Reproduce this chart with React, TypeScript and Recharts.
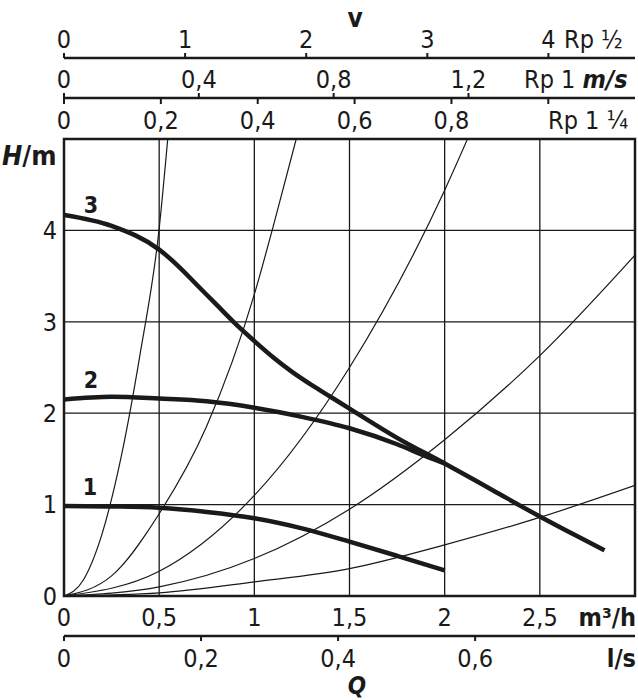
import React from "react";
import {
  LineChart,
  Line,
  XAxis,
  YAxis,
  CartesianGrid,
  ReferenceArea,
} from "recharts";

const FONT = "'DejaVu Sans Condensed', 'DejaVu Sans', sans-serif";
const INK = "#1a1a1a";

// axes (flow in m³/h, head in m, flow in l/s, velocity in m/s per pipe size)
const flowTicks = [0, 0.5, 1, 1.5, 2, 2.5];
const headTicks = [0, 1, 2, 3, 4];
const litreTicks = [0, 0.2, 0.4, 0.6];
const rpHalfTicks = [0, 1, 2, 3, 4];
const rpOneTicks = [0, 0.4, 0.8, 1.2];
const rpQuarterTicks = [0, 0.2, 0.4, 0.6, 0.8, 1];

const flowDomain = [0, 3];
const headDomain = [0, 5];
const litreDomain = [0, 3 / 3.6];
const rpHalfDomain = [0, 4.715];
const rpOneDomain = [0, 1.694];
const rpQuarterDomain = [0, 1.179];

// pump curves, speed stages 1..3
const q1 = [0, 0.25, 0.5, 0.75, 1, 1.25, 1.5, 1.75, 2];
const h1 = [0.985, 0.98, 0.965, 0.92, 0.85, 0.74, 0.595, 0.44, 0.28];
const q2 = [0, 0.25, 0.5, 0.75, 1, 1.25, 1.5, 1.75, 1.9, 2];
const h2 = [2.15, 2.18, 2.16, 2.13, 2.06, 1.96, 1.835, 1.66, 1.53, 1.45];
const q3 = [0, 0.25, 0.5, 0.6, 0.7, 0.8, 0.9, 1, 1.1, 1.2, 1.3, 1.4, 1.5, 1.75, 2, 2.25, 2.5, 2.7, 2.84];
const h3 = [4.17, 4.05, 3.79, 3.61, 3.4, 3.19, 2.98, 2.79, 2.61, 2.45, 2.31, 2.18, 2.05, 1.73, 1.45, 1.16, 0.87, 0.65, 0.5];

// system curves (thin), steepest first
const qA = [0, 0.1, 0.2, 0.3, 0.4, 0.5, 0.545];
const hA = [0, 0.17, 0.68, 1.52, 2.65, 4.02, 5];
const qB = [0, 0.25, 0.5, 0.75, 1, 1.1, 1.22];
const hB = [0, 0.22, 0.9, 1.86, 3.3, 4.05, 5];
const qC = [0, 0.5, 1, 1.5, 2, 2.12];
const hC = [0, 0.27, 1.1, 2.5, 4.44, 5];
const qD = [0, 0.5, 1, 1.5, 2, 2.5, 3];
const hD = [0, 0.1, 0.41, 0.95, 1.71, 2.63, 3.73];
const qE = [0, 0.5, 1, 1.5, 2, 2.5, 3];
const hE = [0, 0.035, 0.155, 0.3, 0.56, 0.86, 1.21];

const toPoints = (q: number[], h: number[]) =>
  q.map((x, i) => ({ q: x, h: h[i] }));

const pumpCurves = [toPoints(q1, h1), toPoints(q2, h2), toPoints(q3, h3)];
const systemCurves = [
  toPoints(qA, hA),
  toPoints(qB, hB),
  toPoints(qC, hC),
  toPoints(qD, hD),
  toPoints(qE, hE),
];
// axes that carry no series still need rows to get a domain
const axisRows = flowTicks.map((q) => ({ q }));

const comma = (v: number) => String(v).replace(".", ",");
const tickStyle = { fill: INK, fontSize: 25, fontFamily: FONT };
const lineStyle = { stroke: INK, strokeWidth: 2.5 };
const tickLineStyle = { stroke: INK, strokeWidth: 2 };

// Rp 1¼ shares the upper line: ticks hang down from it, labels below
const renderQuarterTick = (props: any) => {
  const { x, y, payload } = props;
  return (
    <g>
      <line x1={x} x2={x} y1={y - 30.5} y2={y - 24.5} stroke={INK} strokeWidth={2} />
      {payload.value < 1 && (
        <text x={x} y={y} textAnchor="middle" fill={INK} fontSize={25} fontFamily={FONT}>
          {comma(payload.value)}
        </text>
      )}
    </g>
  );
};

// axis ids are stacked outward from the plot in sorted order
const FLOW = "x1flow";
const LITRE = "x2litre";
const RP_QUARTER = "x3quarter";
const RP_ONE = "x4one";
const RP_HALF = "x5half";

export default function App() {
  return (
    <div
      style={{
        position: "absolute",
        left: 0,
        top: 0,
        width: 638,
        height: 700,
        background: "#fff",
      }}
    >
      <LineChart
        width={638}
        height={700}
        data={axisRows}
        margin={{ top: 18, right: 3, bottom: 19, left: 0 }}
      >
        <XAxis
          xAxisId={FLOW}
          dataKey="q"
          type="number"
          domain={flowDomain}
          allowDataOverflow
          ticks={flowTicks}
          interval={0}
          orientation="bottom"
          height={40}
          axisLine={false}
          tickLine={false}
          tickSize={0}
          tickMargin={12}
          tick={tickStyle}
          tickFormatter={comma}
        />
        <XAxis
          xAxisId={LITRE}
          dataKey="q"
          type="number"
          domain={litreDomain}
          allowDataOverflow
          ticks={litreTicks}
          interval={0}
          orientation="bottom"
          height={45}
          axisLine={lineStyle}
          tickLine={tickLineStyle}
          tickSize={5}
          tickMargin={8}
          tick={tickStyle}
          tickFormatter={comma}
        />
        <XAxis
          xAxisId={RP_QUARTER}
          dataKey="q"
          type="number"
          domain={rpQuarterDomain}
          allowDataOverflow
          ticks={rpQuarterTicks}
          interval={0}
          orientation="top"
          height={41}
          axisLine={false}
          tickLine={false}
          tickSize={0}
          tickMargin={10.5}
          tick={renderQuarterTick}
        />
        <XAxis
          xAxisId={RP_ONE}
          dataKey="q"
          type="number"
          domain={rpOneDomain}
          allowDataOverflow
          ticks={rpOneTicks}
          interval={0}
          orientation="top"
          height={40}
          axisLine={lineStyle}
          tickLine={tickLineStyle}
          tickSize={5}
          tickMargin={5}
          tick={tickStyle}
          tickFormatter={comma}
        />
        <XAxis
          xAxisId={RP_HALF}
          dataKey="q"
          type="number"
          domain={rpHalfDomain}
          allowDataOverflow
          ticks={rpHalfTicks}
          interval={0}
          orientation="top"
          height={40}
          axisLine={lineStyle}
          tickLine={tickLineStyle}
          tickSize={5}
          tickMargin={5}
          tick={tickStyle}
          tickFormatter={comma}
        />
        <YAxis
          yAxisId="h"
          type="number"
          domain={headDomain}
          allowDataOverflow
          ticks={headTicks}
          interval={0}
          width={64}
          axisLine={false}
          tickLine={false}
          tickSize={0}
          tickMargin={7}
          tick={tickStyle}
        />
        <CartesianGrid xAxisId={FLOW} yAxisId="h" stroke={INK} strokeWidth={1.3} />
        {systemCurves.map((pts, i) => (
          <Line
            key={`sys${i}`}
            xAxisId={FLOW}
            yAxisId="h"
            data={pts}
            dataKey="h"
            type="monotone"
            stroke={INK}
            strokeWidth={1.2}
            dot={false}
            activeDot={false}
            isAnimationActive={false}
          />
        ))}
        {pumpCurves.map((pts, i) => (
          <Line
            key={`pump${i}`}
            xAxisId={FLOW}
            yAxisId="h"
            data={pts}
            dataKey="h"
            type="monotone"
            stroke={INK}
            strokeWidth={4.5}
            dot={false}
            activeDot={false}
            isAnimationActive={false}
          />
        ))}
        <ReferenceArea
          xAxisId={FLOW}
          yAxisId="h"
          x1={0}
          x2={3}
          y1={0}
          y2={5}
          fill="none"
          fillOpacity={0}
          stroke={INK}
          strokeWidth={2.5}
        />
      </LineChart>
      <svg
        width={638}
        height={700}
        style={{ position: "absolute", left: 0, top: 0, pointerEvents: "none" }}
        fontFamily={FONT}
        fill={INK}
      >
        <text x={355} y={27} fontSize={26} fontWeight="bold" textAnchor="middle">v</text>
        <text x={564} y={48} fontSize={25}>Rp ½</text>
        <text x={524} y={88} fontSize={25}>
          Rp 1 <tspan fontWeight="bold" fontStyle="italic">m/s</tspan>
        </text>
        <text x={548} y={128.5} fontSize={25}>Rp 1 ¼</text>
        <text x={2} y={165} fontSize={27} fontWeight="bold">
          <tspan fontStyle="italic">H</tspan>/m
        </text>
        <text x={636} y={626} fontSize={25} fontWeight="bold" textAnchor="end">m³/h</text>
        <text x={636} y={667} fontSize={25} fontWeight="bold" textAnchor="end">l/s</text>
        <text x={357} y={694} fontSize={24} fontWeight="bold" fontStyle="italic" textAnchor="middle">Q</text>
        <text x={91} y={213} fontSize={23} fontWeight="bold" textAnchor="middle">3</text>
        <text x={91} y={388} fontSize={23} fontWeight="bold" textAnchor="middle">2</text>
        <text x={90} y={495} fontSize={23} fontWeight="bold" textAnchor="middle">1</text>
      </svg>
    </div>
  );
}
